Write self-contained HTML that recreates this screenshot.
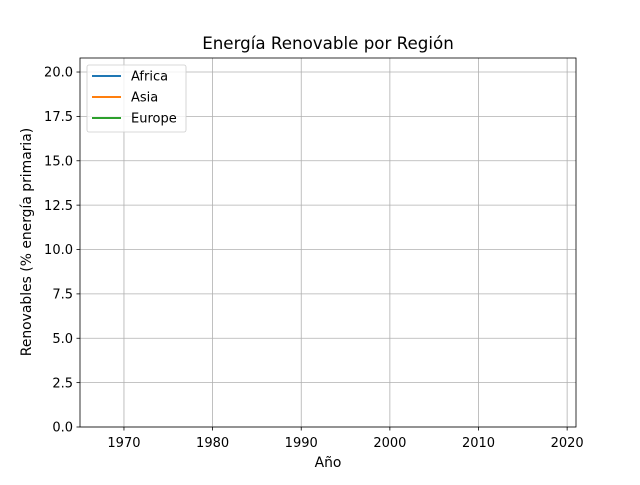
<!DOCTYPE html>
<html><head><meta charset="utf-8"><style>
body{margin:0;background:#fff}
svg{font-family:"DejaVu Sans","Liberation Sans",sans-serif}
</style></head><body>
<svg id="chart" width="640" height="480">
<rect width="640" height="480" fill="#fff"/>
<text x="328" y="49" font-size="16.7" text-anchor="middle">Energía Renovable por Región</text>
<g id="grid"></g>
<g id="series"></g>
<rect x="80" y="58" width="496" height="369" fill="none" stroke="#000" stroke-width="0.8"/>
<g id="ticks"></g>
<text x="328" y="467" font-size="13.9" text-anchor="middle">Año</text>
<text transform="translate(31,242) rotate(-90)" font-size="13.9" text-anchor="middle">Renovables (% energía primaria)</text>
<g>
<rect x="87" y="65" width="99" height="67" rx="2" fill="#fff" fill-opacity="0.8" stroke="#ccc" stroke-width="0.8"/>
<g id="legend-items"></g>
</g>
</svg>
<script>
const years = [];
const africa = [];
const asia = [];
const europe = [];
const seriesNames = ["Africa","Asia","Europe"];
const seriesColors = ["#1f77b4","#ff7f0e","#2ca02c"];
const xTicks = [1970,1980,1990,2000,2010,2020];
const yTicks = [0,2.5,5,7.5,10,12.5,15,17.5,20];
const xMin=1965.04, xMax=2021.0, yMin=0, yMax=20.79;
const L=80,R=576,T=58,B=427;
const sx=v=>L+(v-xMin)/(xMax-xMin)*(R-L);
const sy=v=>B-(v-yMin)/(yMax-yMin)*(B-T);
const NS="http://www.w3.org/2000/svg";
const mk=(t,a,p)=>{const e=document.createElementNS(NS,t);for(const k in a)e.setAttribute(k,a[k]);p.appendChild(e);return e;};
const grid=document.getElementById('grid'),ticks=document.getElementById('ticks');
xTicks.forEach(v=>{const x=sx(v);
 const g=mk('line',{x1:x,x2:x,y1:T,y2:B,stroke:'#b0b0b0','stroke-width':0.8},grid);
 
 
 mk('line',{x1:x,x2:x,y1:B,y2:B+3.5,stroke:'#000','stroke-width':0.8},ticks);
 const t=mk('text',{x:x,y:B+20,'font-size':13,'text-anchor':'middle'},ticks);t.textContent=v;
 
 
});
yTicks.forEach(v=>{const y=sy(v);
 const g=mk('line',{x1:L,x2:R,y1:y,y2:y,stroke:'#b0b0b0','stroke-width':0.8},grid);
 
 
 mk('line',{x1:L-3.5,x2:L,y1:y,y2:y,stroke:'#000','stroke-width':0.8},ticks);
 const t=mk('text',{x:L-7,y:y+4.7,'font-size':13,'text-anchor':'end'},ticks);t.textContent=v.toFixed(1);
 
 
});
const sg=document.getElementById('series');
[africa,asia,europe].forEach((vals,i)=>{
 if(!vals.length)return;
 const d=vals.map((v,j)=>(j?'L':'M')+sx(years[j])+','+sy(v)).join(' ');
 const p=mk('path',{d:d,fill:'none',stroke:seriesColors[i],'stroke-width':1.5},sg);
 
 
});
const lg=document.getElementById('legend-items');
seriesNames.forEach((n,i)=>{const y=76+i*21;
 const l=mk('line',{x1:92,x2:121,y1:y,y2:y,stroke:seriesColors[i],'stroke-width':2},lg);
 
 
 const t=mk('text',{x:131,y:y+4.5,'font-size':13},lg);t.textContent=n;
 
 
});
</script>
</body></html>
